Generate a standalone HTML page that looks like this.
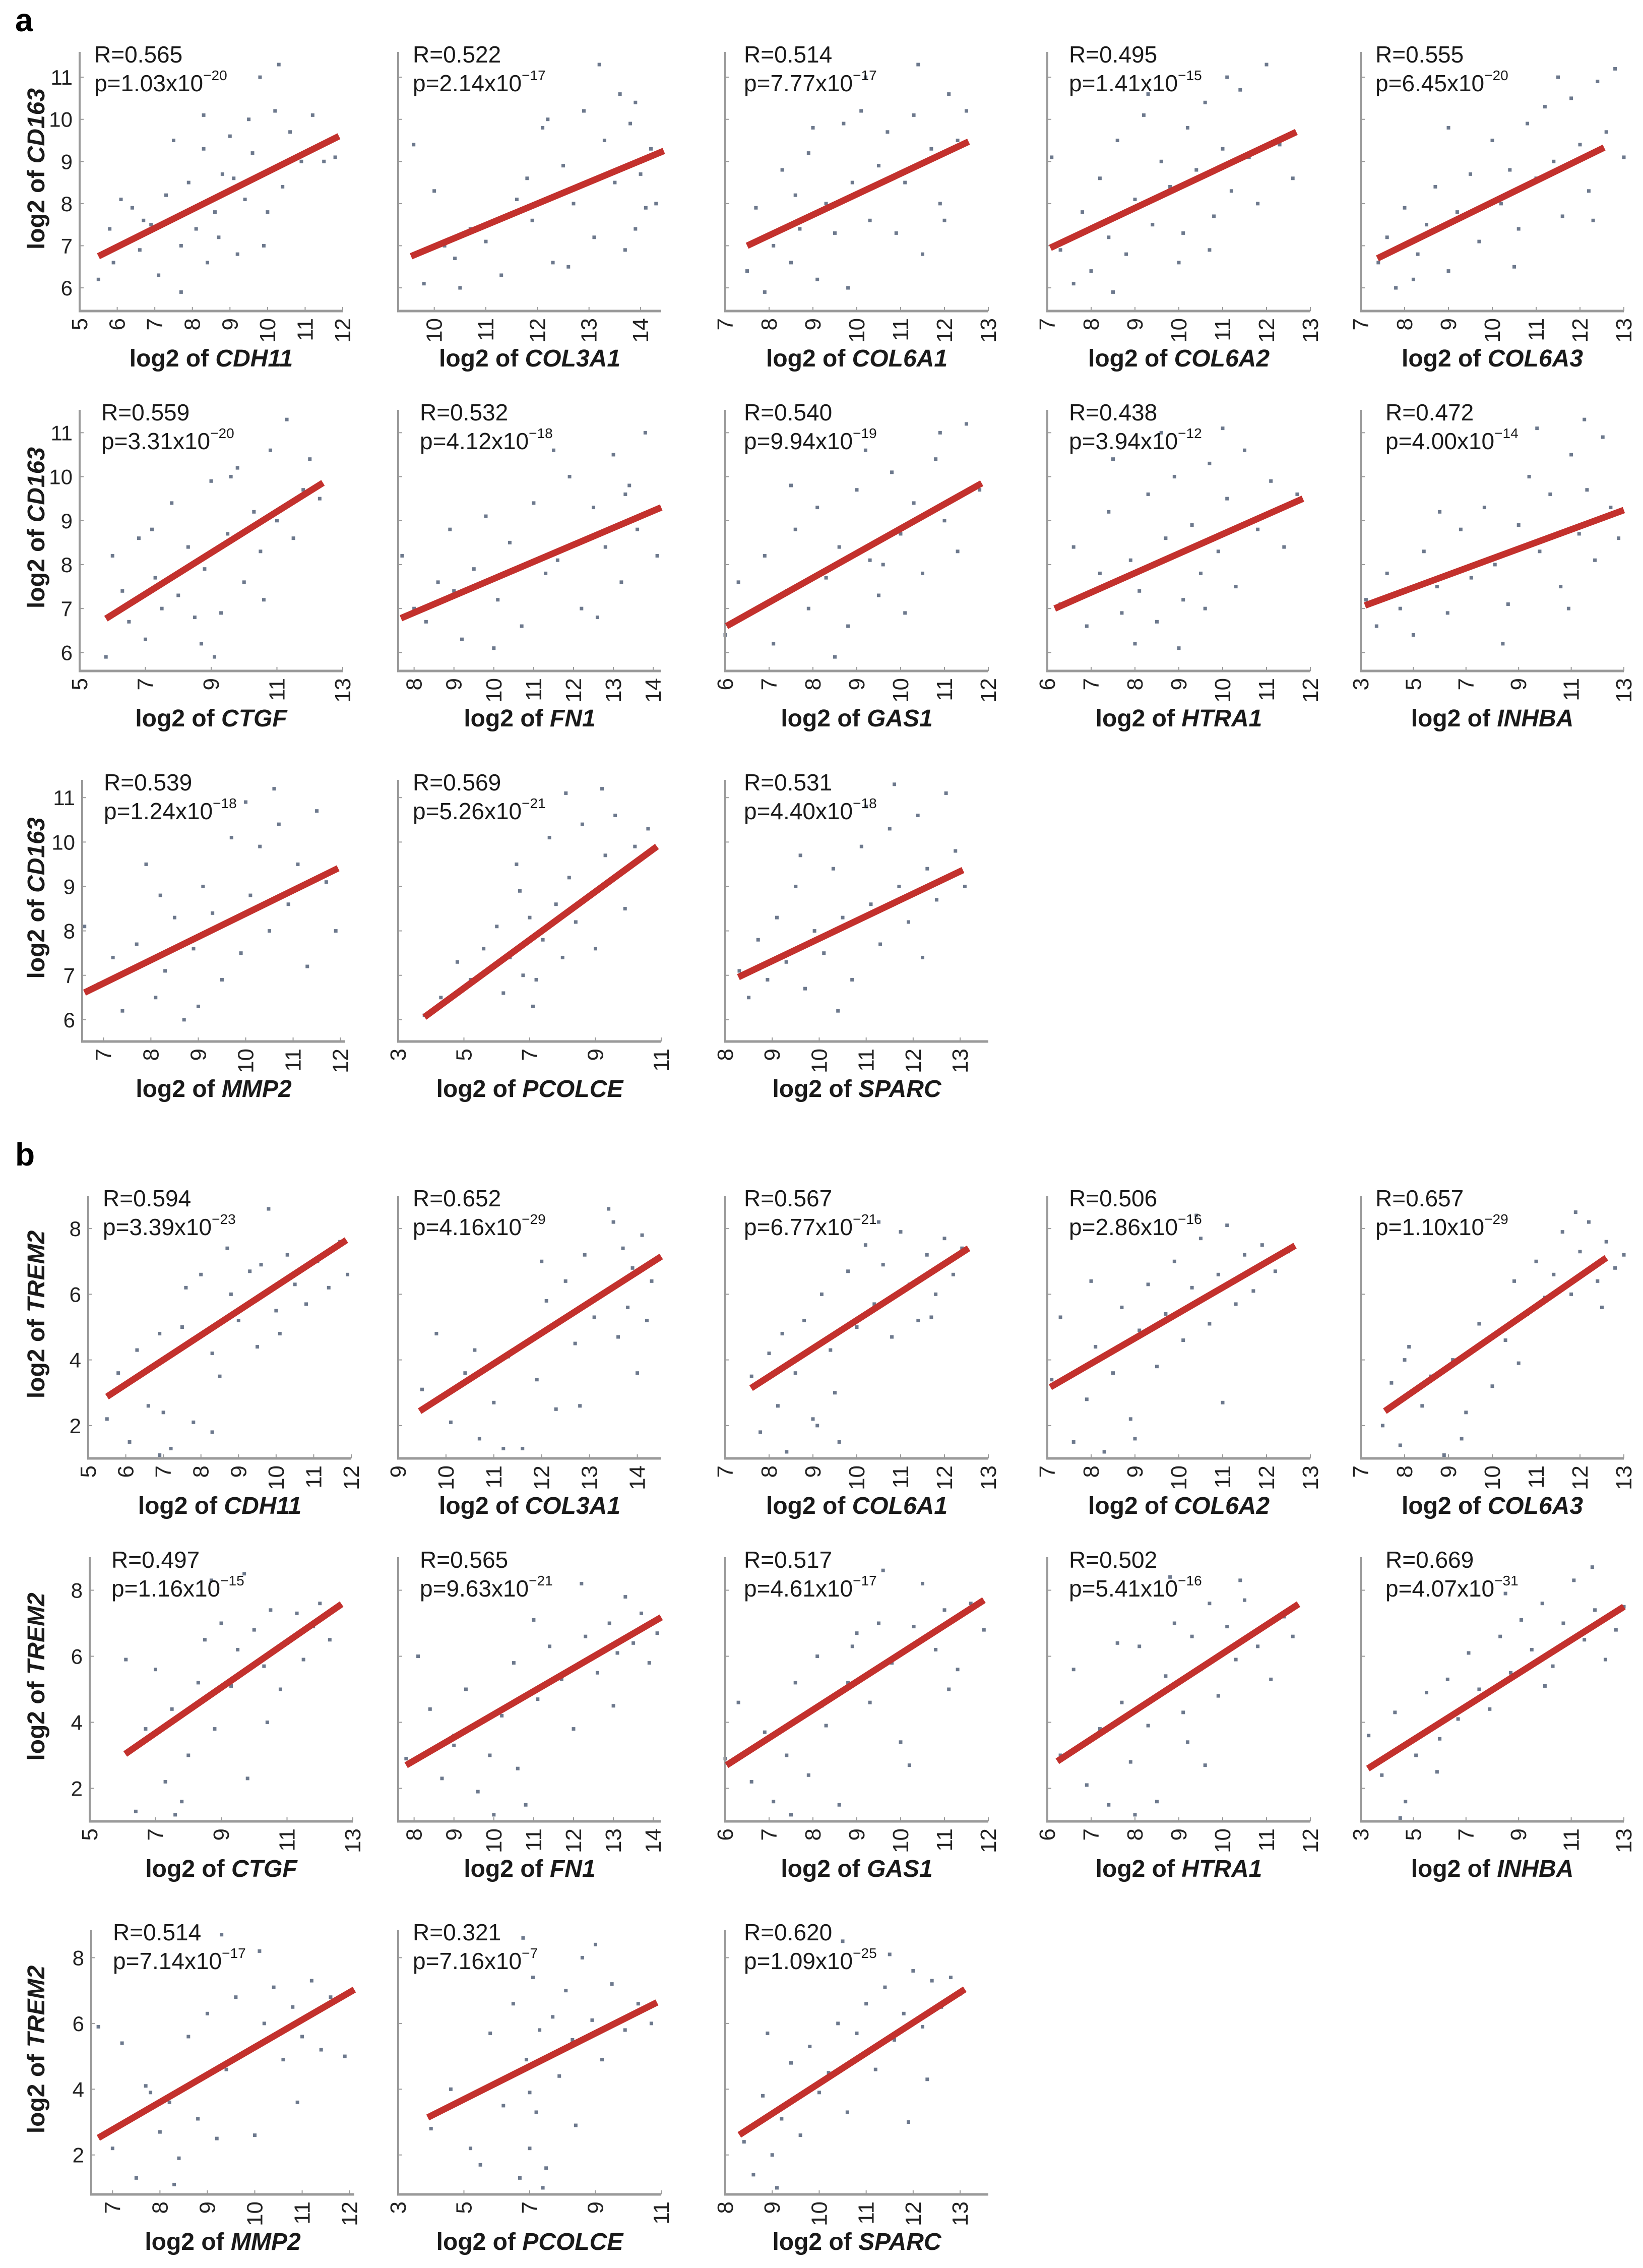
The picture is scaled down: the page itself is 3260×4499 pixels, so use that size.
<!DOCTYPE html>
<html><head><meta charset="utf-8"><style>
html,body{margin:0;padding:0;background:#fff;}
svg{display:block;font-family:"Liberation Sans",Arial,sans-serif;}
</style></head><body>
<svg id="fig" width="3260" height="4499" viewBox="0 0 3260 4499" xmlns="http://www.w3.org/2000/svg">
<rect width="3260" height="4499" fill="#fff"/>
<text x="30" y="62" font-size="64" font-weight="bold">a</text>
<text x="30" y="2312" font-size="64" font-weight="bold">b</text>
</svg>
<script>
// ---- data arrays ----
const a1X=[5.5,5.8,5.9,6.1,6.4,6.6,6.9,7.1,7.3,7.5,7.7,7.9,8.1,8.3,8.4,8.6,8.8,9.0,9.2,9.4,9.6,9.8,10.0,10.2,10.4,10.6,10.9,11.2,11.5,11.8,7.7,8.3,9.1,9.9,10.3,6.7,8.7,9.5];
const a1Y=[6.2,7.4,6.6,8.1,7.9,6.9,7.5,6.3,8.2,9.5,7.0,8.5,7.4,9.3,6.6,7.8,8.7,9.6,6.8,8.1,9.2,11.0,7.8,10.2,8.4,9.7,9.0,10.1,9.0,9.1,5.9,10.1,8.6,7.0,11.3,7.6,7.2,10.0];
const a2X=[9.6,9.8,10.0,10.2,10.4,10.7,11.0,11.3,11.6,11.9,12.1,12.3,12.5,12.7,12.9,13.1,13.3,13.5,13.6,13.7,13.8,13.9,14.0,14.1,14.2,14.3,10.5,11.8,12.6,13.2,13.9,12.2];
const a2Y=[9.4,6.1,8.3,7.0,6.7,7.4,7.1,6.3,8.1,7.6,9.8,6.6,8.9,8.0,10.2,7.2,9.5,8.5,10.6,6.9,9.9,10.4,8.7,7.9,9.3,8.0,6.0,8.6,6.5,11.3,7.4,10.0];
const a3X=[7.5,7.7,7.9,8.1,8.3,8.5,8.7,8.9,9.1,9.3,9.5,9.7,9.9,10.1,10.3,10.5,10.7,10.9,11.1,11.3,11.5,11.7,11.9,12.1,12.3,12.5,8.6,9.8,10.2,11.4,12.0,9.0];
const a3Y=[6.4,7.9,5.9,7.0,8.8,6.6,7.4,9.2,6.2,8.0,7.3,9.9,8.5,10.2,7.6,8.9,9.7,7.3,8.5,10.1,6.8,9.3,8.0,10.6,9.5,10.2,8.2,6.0,11.0,11.3,7.6,9.8];
const a4X=[7.1,7.3,7.6,7.8,8.0,8.2,8.4,8.6,8.8,9.0,9.2,9.4,9.6,9.8,10.0,10.2,10.4,10.6,10.8,11.0,11.2,11.4,11.6,11.8,12.0,12.3,12.6,8.5,9.3,10.1,11.1,10.7];
const a4Y=[9.1,6.9,6.1,7.8,6.4,8.6,7.2,9.5,6.8,8.1,10.1,7.5,9.0,8.4,6.6,9.8,8.8,10.4,7.7,9.3,8.3,10.7,9.1,8.0,11.3,9.4,8.6,5.9,10.6,7.3,11.0,6.9];
const a5X=[7.4,7.6,7.8,8.0,8.3,8.5,8.7,9.0,9.2,9.5,9.7,10.0,10.2,10.4,10.6,10.8,11.0,11.2,11.4,11.6,11.8,12.0,12.2,12.4,12.6,12.8,13.0,9.0,10.5,11.5,12.3,8.2];
const a5Y=[6.6,7.2,6.0,7.9,6.8,7.5,8.4,6.4,7.8,8.7,7.1,9.5,8.0,8.8,7.4,9.9,8.6,10.3,9.0,7.7,10.5,9.4,8.3,10.9,9.7,11.2,9.1,9.8,6.5,11.0,7.6,6.2];
const a6X=[5.8,6.0,6.3,6.5,6.8,7.0,7.3,7.5,7.8,8.0,8.3,8.5,8.8,9.0,9.3,9.5,9.8,10.0,10.3,10.5,10.8,11.0,11.3,11.5,11.8,12.0,12.3,8.7,9.6,10.6,7.2,9.1];
const a6Y=[5.9,8.2,7.4,6.7,8.6,6.3,7.7,7.0,9.4,7.3,8.4,6.8,7.9,9.9,6.9,8.7,10.2,7.6,9.2,8.3,10.6,9.0,11.3,8.6,9.7,10.4,9.5,6.2,10.0,7.2,8.8,5.9];
const a7X=[7.7,8.0,8.3,8.6,8.9,9.2,9.5,9.8,10.1,10.4,10.7,11.0,11.3,11.6,11.9,12.2,12.5,12.8,13.0,13.2,13.4,13.6,13.8,14.0,14.1,10.0,11.5,12.6,13.3,9.0];
const a7Y=[8.2,7.0,6.7,7.6,8.8,6.3,7.9,9.1,7.2,8.5,6.6,9.4,7.8,8.1,10.0,7.0,9.3,8.4,10.5,7.6,9.8,8.8,11.0,9.2,8.2,6.1,10.6,6.8,9.6,7.4];
const a8X=[6.0,6.3,6.6,6.9,7.1,7.4,7.6,7.9,8.1,8.3,8.6,8.8,9.0,9.3,9.5,9.8,10.0,10.3,10.5,10.8,11.0,11.3,11.5,11.8,8.5,9.2,10.1,7.5,10.9,9.6];
const a8Y=[6.4,7.6,6.9,8.2,6.2,7.4,8.8,7.0,9.3,7.7,8.4,6.6,9.7,8.1,7.3,10.1,8.7,9.4,7.8,10.4,9.0,8.3,11.2,9.7,5.9,10.6,6.9,9.8,11.0,8.0];
const a9X=[6.3,6.6,6.9,7.2,7.4,7.7,7.9,8.1,8.3,8.5,8.7,8.9,9.1,9.3,9.5,9.7,9.9,10.1,10.3,10.5,10.8,11.1,11.4,11.7,8.0,9.0,10.0,7.5,8.6,9.6];
const a9Y=[7.1,8.4,6.6,7.8,9.2,6.9,8.1,7.4,9.6,6.7,8.6,10.0,7.2,8.9,7.8,10.3,8.3,9.5,7.5,10.6,8.8,9.9,8.4,9.6,6.2,6.1,11.1,10.4,11.0,7.0];
const a10X=[3.2,3.6,4.0,4.5,5.0,5.4,5.9,6.3,6.8,7.2,7.7,8.1,8.6,9.0,9.4,9.8,10.2,10.6,11.0,11.3,11.6,11.9,12.2,12.5,12.8,8.4,9.7,10.9,6.0,11.5];
const a10Y=[7.2,6.6,7.8,7.0,6.4,8.3,7.5,6.9,8.8,7.7,9.3,8.0,7.1,8.9,10.0,8.3,9.6,7.5,10.5,8.7,9.7,8.1,10.9,9.3,8.6,6.2,11.1,7.0,9.2,11.3];
const a11X=[6.6,6.9,7.2,7.4,7.7,7.9,8.1,8.3,8.5,8.7,8.9,9.1,9.3,9.5,9.7,9.9,10.1,10.3,10.5,10.7,10.9,11.1,11.3,11.5,11.7,11.9,9.0,10.0,8.2,10.6];
const a11Y=[8.1,6.8,7.4,6.2,7.7,9.5,6.5,7.1,8.3,6.0,7.6,9.0,8.4,6.9,10.1,7.5,8.8,9.9,8.0,10.4,8.6,9.5,7.2,10.7,9.1,8.0,6.3,10.9,8.8,11.2];
const a12X=[3.8,4.3,4.8,5.2,5.6,6.0,6.2,6.4,6.6,6.8,7.0,7.2,7.4,7.6,7.8,8.0,8.2,8.4,8.6,8.8,9.0,9.3,9.6,9.9,10.2,10.6,7.1,8.1,6.7,9.2];
const a12Y=[6.1,6.5,7.3,6.9,7.6,8.1,6.6,7.4,9.5,7.0,8.3,6.9,7.8,10.1,8.6,7.4,9.2,8.2,10.4,8.8,7.6,9.7,10.6,8.5,9.9,10.3,6.3,11.1,8.9,11.2];
const a13X=[8.3,8.5,8.7,8.9,9.1,9.3,9.5,9.7,9.9,10.1,10.3,10.5,10.7,10.9,11.1,11.3,11.5,11.7,11.9,12.1,12.3,12.5,12.7,12.9,13.1,10.4,11.6,12.2,9.6,11.0];
const a13Y=[7.1,6.5,7.8,6.9,8.3,7.3,9.0,6.7,8.0,7.5,9.4,8.3,6.9,9.9,8.6,7.7,10.3,9.0,8.2,10.6,9.4,8.7,11.1,9.8,9.0,6.2,11.3,7.4,9.7,10.8];
const b1X=[5.5,5.8,6.1,6.3,6.6,6.9,7.2,7.5,7.8,8.0,8.3,8.5,8.8,9.0,9.3,9.5,9.8,10.0,10.3,10.5,10.8,11.1,11.4,11.7,11.9,7.0,7.6,8.3,9.6,10.1,6.9,8.7];
const b1Y=[2.2,3.6,1.5,4.3,2.6,4.8,1.3,5.0,2.1,6.6,4.2,3.5,6.0,5.2,6.7,4.4,8.6,5.5,7.2,6.3,5.7,7.0,6.2,7.6,6.6,2.4,6.2,1.8,6.9,4.8,1.1,7.4];
const b2X=[9.5,9.8,10.1,10.4,10.7,11.0,11.3,11.6,11.9,12.1,12.3,12.5,12.7,12.9,13.1,13.3,13.5,13.6,13.7,13.8,13.9,14.0,14.1,14.2,14.3,11.2,12.0,12.8,13.4,10.6];
const b2Y=[3.1,4.8,2.1,3.6,1.6,2.7,4.1,1.3,3.4,5.8,2.5,6.4,4.5,7.2,5.3,6.0,8.2,4.7,7.4,5.6,6.8,3.6,7.8,5.2,6.4,1.3,7.0,2.6,8.6,4.3];
const b3X=[7.6,7.8,8.0,8.2,8.4,8.6,8.8,9.0,9.2,9.4,9.6,9.8,10.0,10.2,10.4,10.6,10.8,11.0,11.2,11.4,11.6,11.8,12.0,12.2,12.4,8.3,9.1,10.5,11.7,9.5];
const b3Y=[3.5,1.8,4.2,2.6,1.2,3.6,5.2,2.2,6.0,4.3,1.5,6.7,5.0,7.5,5.7,6.9,4.7,7.9,6.3,5.2,7.2,6.0,7.7,6.6,7.4,4.8,2.0,8.2,5.3,3.0];
const b4X=[7.1,7.3,7.6,7.9,8.1,8.3,8.5,8.7,8.9,9.1,9.3,9.5,9.7,9.9,10.1,10.3,10.5,10.7,10.9,11.1,11.3,11.5,11.7,11.9,12.2,12.5,8.0,9.0,10.4,11.0];
const b4Y=[3.4,5.3,1.5,2.8,4.4,1.2,3.6,5.6,2.2,4.9,6.3,3.8,5.4,7.0,4.6,6.2,7.7,5.1,6.6,8.1,5.7,7.2,6.1,7.5,6.7,7.3,6.4,1.6,8.4,2.7];
const b5X=[7.5,7.7,7.9,8.1,8.4,8.6,8.9,9.1,9.4,9.7,10.0,10.3,10.5,10.8,11.0,11.2,11.4,11.6,11.8,12.0,12.2,12.4,12.6,12.8,13.0,9.3,10.6,11.9,8.0,12.5];
const b5Y=[2.0,3.3,1.4,4.4,2.6,3.5,1.1,4.0,2.4,5.1,3.2,4.6,6.4,5.4,7.0,5.9,6.6,7.9,6.0,7.3,8.2,6.4,7.6,6.8,7.2,1.6,3.9,8.5,4.0,5.6];
const b6X=[6.1,6.4,6.7,7.0,7.3,7.5,7.8,8.0,8.3,8.5,8.8,9.0,9.3,9.5,9.8,10.0,10.3,10.5,10.8,11.0,11.3,11.5,11.8,12.0,12.3,12.6,7.6,8.7,9.7,10.4];
const b6Y=[5.9,1.3,3.8,5.6,2.2,4.4,1.6,3.0,5.2,6.5,3.8,7.0,5.1,6.2,2.3,6.8,5.7,7.4,5.0,6.4,7.3,5.9,6.9,7.6,6.5,7.5,1.2,8.3,8.5,4.0];
const b7X=[7.8,8.1,8.4,8.7,9.0,9.3,9.6,9.9,10.2,10.5,10.8,11.1,11.4,11.7,12.0,12.3,12.6,12.9,13.1,13.3,13.5,13.7,13.9,14.1,10.0,11.0,12.2,9.0,13.0,10.6];
const b7Y=[2.9,6.0,4.4,2.3,3.6,5.0,1.9,3.0,4.2,5.8,1.5,4.7,6.3,5.3,3.8,6.6,5.5,7.0,6.1,7.8,6.4,7.3,5.8,6.7,1.2,7.1,8.2,3.3,4.5,2.6];
const b8X=[6.0,6.3,6.6,6.9,7.1,7.4,7.6,7.9,8.1,8.3,8.6,8.8,9.0,9.3,9.5,9.8,10.0,10.3,10.5,10.8,11.0,11.3,11.6,11.9,7.5,8.2,9.6,10.2,8.9,11.1];
const b8Y=[2.9,4.6,2.2,3.7,1.6,3.0,5.2,2.4,6.0,3.9,1.5,5.2,6.7,4.6,7.0,5.8,3.4,6.9,8.2,6.2,7.4,5.6,7.6,6.8,1.2,4.5,8.6,2.7,6.3,5.0];
const b9X=[6.3,6.6,6.9,7.2,7.4,7.7,7.9,8.1,8.3,8.5,8.7,8.9,9.1,9.3,9.5,9.7,9.9,10.1,10.3,10.5,10.8,11.1,11.4,11.6,8.0,8.8,9.6,10.4,7.6,9.2];
const b9Y=[3.0,5.6,2.1,3.8,1.5,4.6,2.8,6.3,3.9,1.6,5.4,7.0,4.3,6.6,5.6,7.6,4.8,6.9,5.9,7.7,6.3,5.3,7.2,6.6,1.2,8.4,2.7,8.3,6.4,3.4];
const b10X=[3.3,3.8,4.3,4.7,5.1,5.5,5.9,6.3,6.7,7.1,7.5,7.9,8.3,8.7,9.1,9.5,9.9,10.3,10.7,11.1,11.5,11.9,12.3,12.7,13.0,4.5,6.0,8.5,10.0,11.8];
const b10Y=[3.6,2.4,4.3,1.6,3.0,4.9,2.5,5.3,4.1,6.1,5.0,4.4,6.6,5.5,7.1,6.2,7.6,5.7,7.0,8.3,6.5,7.4,5.9,6.8,7.5,1.1,3.5,7.9,5.1,8.7];
const b11X=[6.7,7.0,7.2,7.5,7.7,8.0,8.2,8.4,8.6,8.8,9.0,9.2,9.4,9.6,9.8,10.0,10.2,10.4,10.6,10.8,11.0,11.2,11.4,11.6,11.9,8.3,9.3,10.1,7.8,10.9];
const b11Y=[5.9,2.2,5.4,1.3,4.1,2.7,3.6,1.9,5.6,3.1,6.3,2.5,4.6,6.8,5.1,2.6,6.0,7.1,4.9,6.5,5.6,7.3,5.2,6.8,5.0,1.1,8.7,8.2,3.9,3.6];
const b12X=[4.0,4.6,5.2,5.8,6.2,6.5,6.7,6.9,7.0,7.1,7.2,7.3,7.5,7.7,7.9,8.1,8.3,8.6,8.9,9.2,9.5,9.9,10.3,10.7,6.8,7.4,7.0,8.4,5.5,9.0];
const b12Y=[2.8,4.0,2.2,5.7,3.5,6.6,1.3,4.9,2.2,7.4,3.3,5.8,1.6,6.2,4.4,7.0,5.5,8.0,6.1,4.9,7.2,5.8,6.6,6.0,8.6,1.0,3.9,2.9,1.7,8.4];
const b13X=[8.4,8.6,8.8,9.0,9.2,9.4,9.6,9.8,10.0,10.2,10.4,10.6,10.8,11.0,11.2,11.4,11.6,11.8,12.0,12.2,12.4,12.6,12.8,13.0,9.1,10.5,11.5,12.3,8.9,11.9];
const b13Y=[2.4,1.4,3.8,2.0,3.1,4.8,2.6,5.3,3.9,4.5,6.0,3.3,5.7,6.6,4.6,7.1,5.5,6.3,7.6,5.9,7.3,6.5,7.4,6.9,1.0,8.5,8.1,4.3,5.7,3.0];
const fitA=[[5.5,6.75,11.9,9.6],[9.55,6.75,14.45,9.25],[7.5,7.0,12.55,9.47],[7.07,6.95,12.68,9.7],[7.38,6.7,12.55,9.33],
 [5.8,6.77,12.4,9.86],[7.67,6.78,14.2,9.3],[6.03,6.6,11.85,9.85],[6.17,7.0,11.83,9.5],[3.16,7.07,13.0,9.24],
 [6.6,6.61,11.95,9.41],[3.8,6.06,10.87,9.9],[8.28,6.96,13.06,9.37]];
const fitB=[[5.5,2.88,11.87,7.65],[9.45,2.44,14.5,7.15],[7.59,3.14,12.55,7.4],[7.07,3.17,12.65,7.48],[7.55,2.44,12.6,7.11],
 [6.08,3.04,12.66,7.58],[7.8,2.7,14.2,7.18],[6.03,2.7,11.9,7.7],[6.23,2.82,11.73,7.58],[3.27,2.6,13.0,7.5],
 [6.7,2.52,12.1,7.03],[3.9,3.14,10.87,6.64],[8.3,2.61,13.1,7.04]];
const genes=["CDH11","COL3A1","COL6A1","COL6A2","COL6A3","CTGF","FN1","GAS1","HTRA1","INHBA","MMP2","PCOLCE","SPARC"];
const rA=["0.565","0.522","0.514","0.495","0.555","0.559","0.532","0.540","0.438","0.472","0.539","0.569","0.531"];
const pA=["1.03","2.14","7.77","1.41","6.45","3.31","4.12","9.94","3.94","4.00","1.24","5.26","4.40"];
const eA=["20","17","17","15","20","20","18","19","12","14","18","21","18"];
const rB=["0.594","0.652","0.567","0.506","0.657","0.497","0.565","0.517","0.502","0.669","0.514","0.321","0.620"];
const pB=["3.39","4.16","6.77","2.86","1.10","1.16","9.63","4.61","5.41","4.07","7.14","7.16","1.09"];
const eB=["23","29","21","16","29","15","21","17","16","31","17","7","25"];
const xDomA=[[5,12],[9.3,14.4],[7,13],[7,13],[7,13],[5,13],[7.6,14.2],[6,12],[6,12],[3,13],[6.55,12.1],[3,11],[8,13.6]];
const xDomB=[[5,12],[9,14.5],[7,13],[7,13],[7,13],[5,13],[7.6,14.2],[6,12],[6,12],[3,13],[6.55,12.1],[3,11],[8,13.6]];
const xTicksA=[[5,6,7,8,9,10,11,12],[10,11,12,13,14],[7,8,9,10,11,12,13],[7,8,9,10,11,12,13],[7,8,9,10,11,12,13],
 [5,7,9,11,13],[8,9,10,11,12,13,14],[6,7,8,9,10,11,12],[6,7,8,9,10,11,12],[3,5,7,9,11,13],[7,8,9,10,11,12],[3,5,7,9,11],[8,9,10,11,12,13]];
const xTicksB=[[5,6,7,8,9,10,11,12],[9,10,11,12,13,14],[7,8,9,10,11,12,13],[7,8,9,10,11,12,13],[7,8,9,10,11,12,13],
 [5,7,9,11,13],[8,9,10,11,12,13,14],[6,7,8,9,10,11,12],[6,7,8,9,10,11,12],[3,5,7,9,11,13],[7,8,9,10,11,12],[3,5,7,9,11],[8,9,10,11,12,13]];
const yTicksA=[6,7,8,9,10,11];
const yTicksB=[2,4,6,8];
const ptsA=[[a1X,a1Y],[a2X,a2Y],[a3X,a3Y],[a4X,a4Y],[a5X,a5Y],[a6X,a6Y],[a7X,a7Y],[a8X,a8Y],[a9X,a9Y],[a10X,a10Y],[a11X,a11Y],[a12X,a12Y],[a13X,a13Y]];
const ptsB=[[b1X,b1Y],[b2X,b2Y],[b3X,b3Y],[b4X,b4Y],[b5X,b5Y],[b6X,b6Y],[b7X,b7Y],[b8X,b8Y],[b9X,b9Y],[b10X,b10Y],[b11X,b11Y],[b12X,b12Y],[b13X,b13Y]];

const colX=[158,790,1439,2078,2700];
const W=522;
const rowsA=[[103,617],[813,1331],[1547,2066]];
const rowsB=[[2372,2893],[3089,3613],[3828,4353]];
const yDomA=[[5.45,11.6],[5.58,11.52],[5.51,11.4]];
const yDomB=[[1,9],[1,9],[0.8,8.85]];
const rOff=[29,29,37,43,29,43,43,37,43,49,43,29,37];

const NS="http://www.w3.org/2000/svg";
const svg=document.getElementById('fig');
function mk(tag,attrs,parent){const e=document.createElementNS(NS,tag);for(const k in attrs)e.setAttribute(k,attrs[k]);(parent||svg).appendChild(e);return e;}

function panel(section,i){
  const isA=section==='a';
  const row=Math.floor(i/5), col=i%5;
  const [top,bot]=(isA?rowsA:rowsB)[row];
  const [ymin,ymax]=(isA?yDomA:yDomB)[row];
  const [xmin,xmax]=(isA?xDomA:xDomB)[i];
  let x0=colX[col];
  if(col===0) x0 = isA ? (row===2?163:158) : 175+(row*3);
  const x1=x0+W;
  const sx=v=>x0+(v-xmin)/(xmax-xmin)*(x1-x0);
  const sy=v=>bot-(v-ymin)/(ymax-ymin)*(bot-top);
  const g=mk('g',{});
  
  
  const [px,py]=(isA?ptsA:ptsB)[i];
  for(let k=0;k<px.length;k++){
    const r=mk('rect',{x:sx(px[k])-3.5,y:sy(py[k])-3.5,width:7,height:7,fill:'#6d798d'},g);
    
    
  }
  const ya=mk('line',{x1:x0,y1:top,x2:x0,y2:bot,stroke:'#9a9a9a','stroke-width':4},g);
  
  
  const xa=mk('line',{x1:x0-2,y1:bot,x2:x1,y2:bot,stroke:'#9a9a9a','stroke-width':5},g);
  
  
  const yt=isA?yTicksA:yTicksB;
  for(const t of yt){
    mk('line',{x1:x0,y1:sy(t),x2:x0+8,y2:sy(t),stroke:'#9a9a9a','stroke-width':2},g);
    if(col===0){
      const tl=mk('text',{x:x0-14,y:sy(t)+15,'font-size':42,'text-anchor':'end',fill:'#222'},g);
      tl.textContent=t;
      
      
    }
  }
  const xt=(isA?xTicksA:xTicksB)[i];
  for(const t of xt){
    const X=sx(t);
    mk('line',{x1:X,y1:bot,x2:X,y2:bot-8,stroke:'#9a9a9a','stroke-width':2},g);
    const tl=mk('text',{x:0,y:0,'font-size':44,'text-anchor':'end',fill:'#222',transform:`translate(${X+15},${bot+14}) rotate(-90)`},g);
    tl.textContent=t;
    
    
  }
  const f=(isA?fitA:fitB)[i];
  const ln=mk('line',{x1:sx(f[0]),y1:sy(f[1]),x2:sx(f[2]),y2:sy(f[3]),stroke:'#c3312d','stroke-width':13},g);
  
  
  const rt=mk('text',{x:x0+rOff[i],y:top+21,'font-size':46,fill:'#1a1a1a'},g);
  rt.textContent='R='+(isA?rA:rB)[i];
  
  
  const pt=mk('text',{x:x0+rOff[i],y:top+78,'font-size':46,fill:'#1a1a1a'},g);
  
  
  const t1=mk('tspan',{},pt); t1.textContent='p='+(isA?pA:pB)[i]+'x10';
  const t2=mk('tspan',{dy:-22,'font-size':28},pt); t2.textContent='\u2212'+(isA?eA:eB)[i];
  const xtl=mk('text',{x:(x0+x1)/2,y:bot+110,'font-size':48,'font-weight':'bold','text-anchor':'middle',fill:'#1a1a1a'},g);
  
  
  const s1=mk('tspan',{},xtl); s1.textContent='log2 of ';
  const s2=mk('tspan',{'font-style':'italic'},xtl); s2.textContent=genes[i];
  if(col===0){
    const cy=(top+bot)/2-25;
    const ytl=mk('text',{x:0,y:0,'font-size':48,'font-weight':'bold','text-anchor':'middle',fill:'#1a1a1a',transform:`translate(88,${cy}) rotate(-90)`},g);
    
    
    const u1=mk('tspan',{},ytl); u1.textContent='log2 of ';
    const u2=mk('tspan',{'font-style':'italic'},ytl); u2.textContent=isA?'CD163':'TREM2';
  }
}
for(let i=0;i<13;i++){panel('a',i);panel('b',i);}
</script>
</body></html>
